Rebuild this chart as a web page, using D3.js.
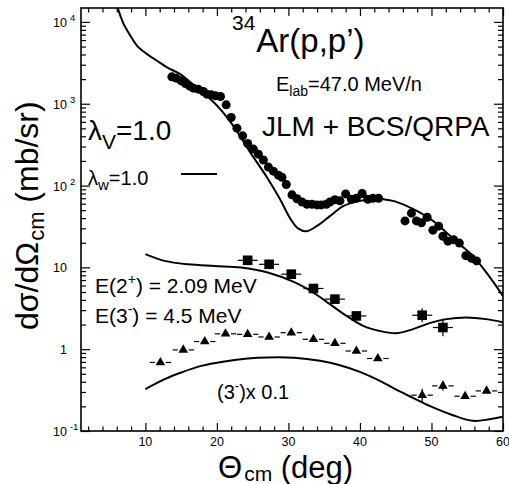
<!DOCTYPE html>
<html>
<head>
<meta charset="utf-8">
<script src="https://cdn.jsdelivr.net/npm/d3@7"></script>
<style>
  html, body { margin: 0; padding: 0; background: #fff; }
  svg { display: block; font-family: "Liberation Sans", Arial, Helvetica, sans-serif; }
</style>
</head>
<body>
<svg id="chart" width="509" height="484"></svg>
<script>
// ---------------- data ----------------
// elastic 34Ar(p,p) data (deg, mb/sr)
const elasticAngle = [13.7,14.3,15.0,15.6,16.2,16.7,17.4,18.1,18.6,19.2,19.8,20.5,21.3,22.0,22.8,23.6,24.3,25.1,25.8,26.5,27.2,27.9,28.6,29.1,29.7,30.5,31.2,31.9,32.6,33.3,34.0,34.6,35.3,35.8,36.5,37.2,38.0,38.8,39.5,40.3,41.1,41.8,42.6,46.3,47.2,47.9,48.6,49.4,50.2,51.0,51.6,52.3,53.1,53.9,54.8,55.6,56.3];
const elasticXs = [2133,2056,1905,1770,1641,1552,1507,1413,1310,1284,1250,1228,970,680,503,405,327,279,242,205,168,150,134,126,103,77,69,63,59,59,58,58,59,63,67,65,79,68,70,80,68,70,70,37,46,37,35,41,28.5,31.9,24,20.9,21.8,19.8,13.9,12.9,12.0];

// elastic calculation
const elasticCurveAngle = [6.09,6.51,6.97,7.91,8.84,10.24,11.63,13.03,14.88,16.74,18.61,20.46,22.32,24.64,26.97,28.83,30.22,31.34,32.55,33.95,35.80,37.66,40.0,41.84,43.24,44.63,46.50,48.35,50.21,52.08,53.93,55.79,57.66,59.51,60.0];
const elasticCurveXs = [15200,11880,9400,6760,5100,4040,3350,2780,2300,1690,1240,860,532,256,127,68,40,30,27.7,31.9,42.3,56,65,68.2,68.2,65,56.5,46.9,37,26.7,19.2,13.8,8.67,5.16,4.45];

// 2+ data
const e2Angle = [24.3,27.3,30.4,33.5,36.5,39.5,48.7,51.6];
const e2Xs = [12.2,10.9,8.26,5.52,4.09,2.55,2.6,1.84];
const e2XErr = [1.4,1.4,1.4,1.4,1.4,1.4,1.4,1.4];
const e2YErrFactor = [1,1,1,1,1,1,1.22,1.28];

// 2+ calculation
const e2CurveAngle = [10.0,12.69,15.96,19.67,23.39,27.11,30.82,33.47,35.80,38.13,40.45,42.78,45.10,47.42,49.74,52.08,54.87,57.66,60.0];
const e2CurveXs = [14.5,12.0,10.9,10.4,9.97,8.67,6.6,4.93,3.55,2.55,1.93,1.67,1.57,1.76,2.08,2.33,2.44,2.33,2.14];

// 3- data
const e3Angle = [12.1,15.3,18.3,21.2,24.3,27.3,30.4,33.5,36.5,39.5,42.5,48.7,51.6,54.7,57.7];
const e3Xs = [0.688,0.98,1.24,1.54,1.52,1.41,1.59,1.32,1.18,0.95,0.77,0.274,0.356,0.266,0.309];
const e3XErr = [1.5,1.5,1.5,1.5,1.5,1.5,1.5,1.5,1.5,1.5,1.5,1.5,1.5,1.5,1.5];
const e3YErrFactor = [1,1,1,1,1,1,1,1,1,1,1,1.2,1.15,1,1];

// 3- calculation (x 0.1)
const e3CurveAngle = [10.0,12.69,15.02,17.81,21.06,24.32,27.11,30.82,34.41,37.2,39.99,42.78,45.57,48.0,50.21,53.0,55.79,58.12,60.0];
const e3CurveXs = [0.324,0.43,0.519,0.625,0.708,0.769,0.792,0.785,0.72,0.637,0.528,0.41,0.305,0.24,0.194,0.156,0.133,0.139,0.149];

// axes ticks
const xMajorTicks = [10,20,30,40,50,60];
const xMinorTicks = [2,4,6,8,12,14,16,18,22,24,26,28,32,34,36,38,42,44,46,48,52,54,56,58];
const yMajorTicks = [0.1,1,10,100,1000,10000];
const yTickBase = ["10","1","10","10","10","10"];
const yTickExp  = ["-1","","","2","3","4"];

// ---------------- layout ----------------
const svg = d3.select("#chart");
const L = 81, R = 503, T = 8, B = 431;
const x = d3.scaleLinear().domain([1, 60]).range([L, R]);
const y = d3.scaleLog().domain([0.1, 14800]).range([B, T]);

const yMinorTicks = [];
for (let e = -1; e <= 4; e++) for (let m = 2; m <= 9; m++) {
  const v = m * Math.pow(10, e);
  if (v < 14800) yMinorTicks.push(v);
}

svg.append("defs").append("clipPath").attr("id", "plotclip")
  .append("rect").attr("x", L).attr("y", T).attr("width", R - L).attr("height", B - T);

function axisG(gen, tr) {
  const g = svg.append("g").attr("transform", tr).call(gen);
  g.select(".domain").remove();
  g.selectAll("line").attr("stroke", "#000").attr("stroke-width", 1.2);
  g.selectAll("text").remove();
  return g;
}
// bottom / top
axisG(d3.axisBottom(x).tickValues(xMajorTicks).tickSize(-8).tickFormat(""), `translate(0,${B})`);
axisG(d3.axisBottom(x).tickValues(xMinorTicks).tickSize(-4.5).tickFormat(""), `translate(0,${B})`);
axisG(d3.axisTop(x).tickValues(xMajorTicks).tickSize(-8).tickFormat(""), `translate(0,${T})`);
axisG(d3.axisTop(x).tickValues(xMinorTicks).tickSize(-4.5).tickFormat(""), `translate(0,${T})`);
// left / right
axisG(d3.axisLeft(y).tickValues(yMajorTicks).tickSize(-9).tickFormat(""), `translate(${L},0)`);
axisG(d3.axisLeft(y).tickValues(yMinorTicks).tickSize(-5).tickFormat(""), `translate(${L},0)`);
axisG(d3.axisRight(y).tickValues(yMajorTicks).tickSize(-9).tickFormat(""), `translate(${R},0)`);
axisG(d3.axisRight(y).tickValues(yMinorTicks).tickSize(-5).tickFormat(""), `translate(${R},0)`);

// frame
svg.append("rect").attr("x", L).attr("y", T).attr("width", R - L).attr("height", B - T)
  .attr("fill", "none").attr("stroke", "#000").attr("stroke-width", 1.6);

// tick labels
svg.append("g").selectAll("text").data(xMajorTicks).join("text")
  .attr("x", d => x(d)).attr("y", 446).attr("text-anchor", "middle")
  .attr("font-size", 12.5).text(d => d);

yMajorTicks.forEach((v, i) => {
  const t = svg.append("text").attr("y", y(v) + 5).attr("font-size", 12.5);
  if (yTickExp[i]) {
    t.attr("x", 53).attr("text-anchor", "start");
    t.append("tspan").text(yTickBase[i]);
    t.append("tspan").attr("dx", 3).attr("dy", -6).attr("font-size", 9.5).text(yTickExp[i]);
  } else {
    t.attr("x", 67).attr("text-anchor", "end").text(yTickBase[i]);
  }
});

// axis titles
const xt = svg.append("text").attr("x", 218).attr("y", 478).attr("font-size", 31);
xt.append("tspan").text("Θ");
xt.append("tspan").attr("font-size", 21).attr("dy", 3).attr("dx", 2).text("cm");
xt.append("tspan").attr("dy", -3).text(" (deg)");

const yt = svg.append("text").attr("transform", "translate(38,330) rotate(-90)").attr("font-size", 32);
yt.append("tspan").text("dσ/dΩ");
yt.append("tspan").attr("font-size", 22).attr("dy", 6).attr("dx", 1).text("cm");
yt.append("tspan").attr("dy", -6).text(" (mb/sr)");

// ---------------- curves ----------------
const line = d3.line().x(d => x(d[0])).y(d => y(d[1])).curve(d3.curveCatmullRom.alpha(0.5));
const plot = svg.append("g").attr("clip-path", "url(#plotclip)");
function drawCurve(ax, vs) {
  plot.append("path").datum(ax.map((a, i) => [a, vs[i]])).attr("d", line)
    .attr("fill", "none").attr("stroke", "#000").attr("stroke-width", 2);
}
drawCurve(elasticCurveAngle, elasticCurveXs);
drawCurve(e2CurveAngle, e2CurveXs);
drawCurve(e3CurveAngle, e3CurveXs);

// ---------------- data points ----------------
plot.append("g").selectAll("circle").data(elasticAngle.map((a, i) => [a, elasticXs[i]])).join("circle")
  .attr("cx", d => x(d[0])).attr("cy", d => y(d[1])).attr("r", 4.5).attr("fill", "#000");

function errBars(g, ang, val, xerr, yfac, gap) {
  ang.forEach((a, i) => {
    const cx = x(a), cy = y(val[i]);
    const x1 = x(a - xerr[i]), x2 = x(a + xerr[i]);
    g.append("line").attr("x1", x1).attr("x2", cx - gap).attr("y1", cy).attr("y2", cy);
    g.append("line").attr("x1", cx + gap).attr("x2", x2).attr("y1", cy).attr("y2", cy);
    if (yfac[i] > 1) {
      g.append("line").attr("x1", cx).attr("x2", cx).attr("y1", y(val[i] * yfac[i])).attr("y2", y(val[i] / yfac[i]));
    }
  });
  g.selectAll("line").attr("stroke", "#000").attr("stroke-width", 1.2);
}
const gE2 = plot.append("g");
errBars(gE2, e2Angle, e2Xs, e2XErr, e2YErrFactor, 4);
gE2.selectAll("rect").data(e2Angle.map((a, i) => [a, e2Xs[i]])).join("rect")
  .attr("x", d => x(d[0]) - 4.8).attr("y", d => y(d[1]) - 4.8).attr("width", 9.6).attr("height", 9.6).attr("fill", "#000");

const gE3 = plot.append("g");
errBars(gE3, e3Angle, e3Xs, e3XErr, e3YErrFactor, 5.5);
const tri = d3.symbol().type(d3.symbolTriangle).size(40);
gE3.selectAll("path").data(e3Angle.map((a, i) => [a, e3Xs[i]])).join("path")
  .attr("d", tri).attr("transform", d => `translate(${x(d[0])},${y(d[1])})`).attr("fill", "#000");

// ---------------- annotations ----------------
const t1 = svg.append("text").attr("x", 232).attr("y", 52).attr("font-size", 33);
t1.append("tspan").attr("font-size", 21).attr("dy", -22).text("34");
t1.append("tspan").attr("dy", 22).attr("dx", 1).text("Ar(p,p’)");

const t2 = svg.append("text").attr("x", 276).attr("y", 91).attr("font-size", 20);
t2.append("tspan").text("E");
t2.append("tspan").attr("font-size", 14).attr("dy", 5).text("lab");
t2.append("tspan").attr("dy", -5).text("=47.0 MeV/n");

svg.append("text").attr("x", 262).attr("y", 136).attr("font-size", 28).text("JLM + BCS/QRPA");

const t3 = svg.append("text").attr("x", 88).attr("y", 140).attr("font-size", 28);
t3.append("tspan").text("λ");
t3.append("tspan").attr("font-size", 21).attr("dy", 9).text("V");
t3.append("tspan").attr("dy", -9).text("=1.0");

const t4 = svg.append("text").attr("x", 88).attr("y", 185).attr("font-size", 20);
t4.append("tspan").text("λ");
t4.append("tspan").attr("font-size", 15).attr("dy", 5).text("w");
t4.append("tspan").attr("dy", -5).text("=1.0");
svg.append("line").attr("x1", 181).attr("x2", 217).attr("y1", 174).attr("y2", 174)
  .attr("stroke", "#000").attr("stroke-width", 2);

const t5 = svg.append("text").attr("x", 95).attr("y", 293).attr("font-size", 21);
t5.append("tspan").text("E(2");
t5.append("tspan").attr("font-size", 14).attr("dy", -9).text("+");
t5.append("tspan").attr("dy", 9).text(") = 2.09 MeV");

const t6 = svg.append("text").attr("x", 95).attr("y", 323).attr("font-size", 21);
t6.append("tspan").text("E(3");
t6.append("tspan").attr("font-size", 14).attr("dy", -9).text("-");
t6.append("tspan").attr("dy", 9).text(") = 4.5 MeV");

const t7 = svg.append("text").attr("x", 217).attr("y", 399).attr("font-size", 20);
t7.append("tspan").text("(3");
t7.append("tspan").attr("font-size", 13).attr("dy", -9).text("-");
t7.append("tspan").attr("dy", 9).text(")x 0.1");
</script>
</body>
</html>
